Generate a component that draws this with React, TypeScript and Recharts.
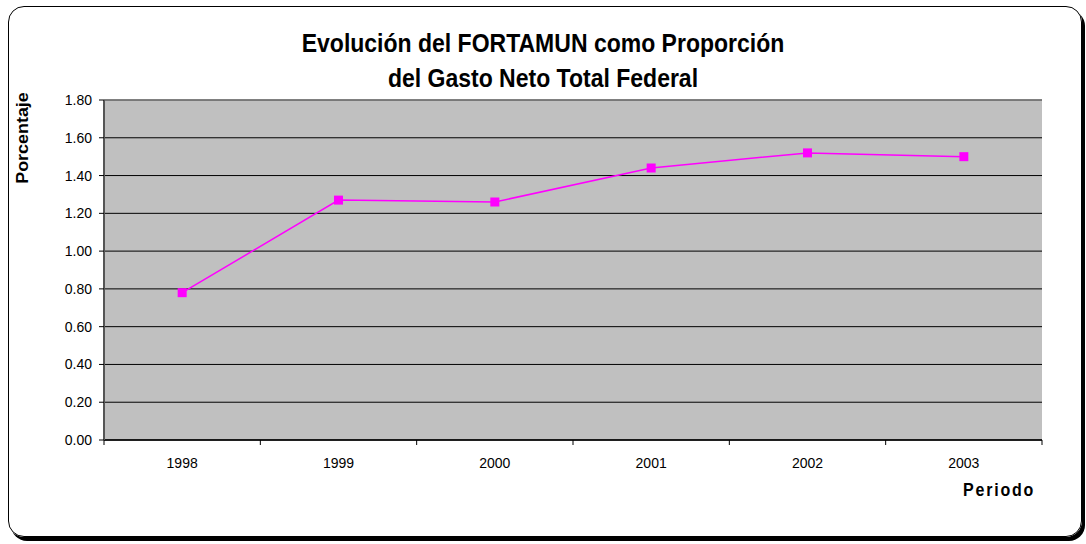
import React from "react";
import { LineChart, Line, XAxis, YAxis, CartesianGrid, ReferenceLine } from "recharts";

const years = ["1998", "1999", "2000", "2001", "2002", "2003"];
const fortamun = [0.78, 1.27, 1.26, 1.44, 1.52, 1.5];
const yTicks = [0, 0.2, 0.4, 0.6, 0.8, 1.0, 1.2, 1.4, 1.6, 1.8];

const data = years.map((year, i) => ({ year, value: fortamun[i] }));

const FONT = "Arial, 'Liberation Sans', Helvetica, sans-serif";

const XTick = (props: any) => {
  const { x, y, payload, index } = props;
  const half = payload && payload.offset ? payload.offset : 156.33 / 2;
  const y0 = y - 8;
  return (
    <g>
      <line x1={x - half} y1={y0} x2={x - half} y2={y0 + 5} stroke="#000" />
      {index === years.length - 1 && (
        <line x1={x + half} y1={y0} x2={x + half} y2={y0 + 5} stroke="#000" />
      )}
      <text x={x} y={y0 + 28} textAnchor="middle" fontSize={14} fill="#000" fontFamily={FONT}>
        {payload.value}
      </text>
    </g>
  );
};

const Square = (props: any) => {
  const { cx, cy } = props;
  if (cx == null || cy == null) return null;
  return <rect x={cx - 4.5} y={cy - 4.5} width={9} height={9} fill="#ff00ff" />;
};

export default function App() {
  return (
    <div style={{ position: "absolute", left: 0, top: 0, width: 1086, height: 544, background: "#fff", fontFamily: FONT }}>
      <div
        style={{
          position: "absolute",
          left: 8,
          top: 6,
          width: 1072,
          height: 529,
          border: "1px solid #000",
          borderRadius: 16,
          boxShadow: "3px 4px 0 #000",
        }}
      />
      <div
        style={{
          position: "absolute",
          left: 0,
          width: 1086,
          top: 26,
          textAlign: "center",
          fontSize: 23,
          fontWeight: "bold",
          lineHeight: "30px",
          transform: "scaleY(1.15)",
          transformOrigin: "center top",
        }}
      >
        Evolución del FORTAMUN como Proporción
        <br />
        del Gasto Neto Total Federal
      </div>
      <div
        style={{
          position: "absolute",
          left: 23,
          top: 138,
          fontSize: 16,
          fontWeight: "bold",
          transform: "translate(-50%, -50%) rotate(-90deg) scaleX(1.12)",
          whiteSpace: "nowrap",
        }}
      >
        Porcentaje
      </div>
      <div
        style={{
          position: "absolute",
          left: 963,
          top: 482,
          fontSize: 16,
          lineHeight: "16px",
          fontWeight: "bold",
          letterSpacing: 1.8,
          transform: "scaleY(1.1)",
        }}
      >
        Periodo
      </div>
      <div style={{ position: "absolute", left: 0, top: 0 }}>
        <LineChart width={1086} height={544} data={data} margin={{ top: 100, right: 44, bottom: 74, left: 44 }}>
          <CartesianGrid fill="#c0c0c0" stroke="#000" vertical={false} strokeOpacity={1} />
          <XAxis
            dataKey="year"
            scale="band"
            height={30}
            axisLine={{ stroke: "#000", strokeWidth: 1.5 }}
            tickLine={false}
            tick={<XTick />}
            interval={0}
          />
          <YAxis
            domain={[0, 1.8]}
            ticks={yTicks}
            width={60}
            tickFormatter={(v: number) => v.toFixed(2)}
            axisLine={{ stroke: "#555", strokeWidth: 2 }}
            tickLine={{ stroke: "#000" }}
            tickSize={5}
            tickMargin={7}
            tick={{ fill: "#000", fontSize: 14, fontFamily: FONT }}
            interval={0}
          />
          <YAxis yAxisId="right" orientation="right" width={0} tick={false} tickLine={false} axisLine={{ stroke: "#808080", strokeWidth: 2 }} />
          <ReferenceLine y={1.8} stroke="#808080" strokeWidth={1.5} />
          <Line
            dataKey="value"
            stroke="#ff00ff"
            strokeWidth={1.5}
            dot={<Square />}
            activeDot={false}
            isAnimationActive={false}
          />
        </LineChart>
      </div>
    </div>
  );
}
